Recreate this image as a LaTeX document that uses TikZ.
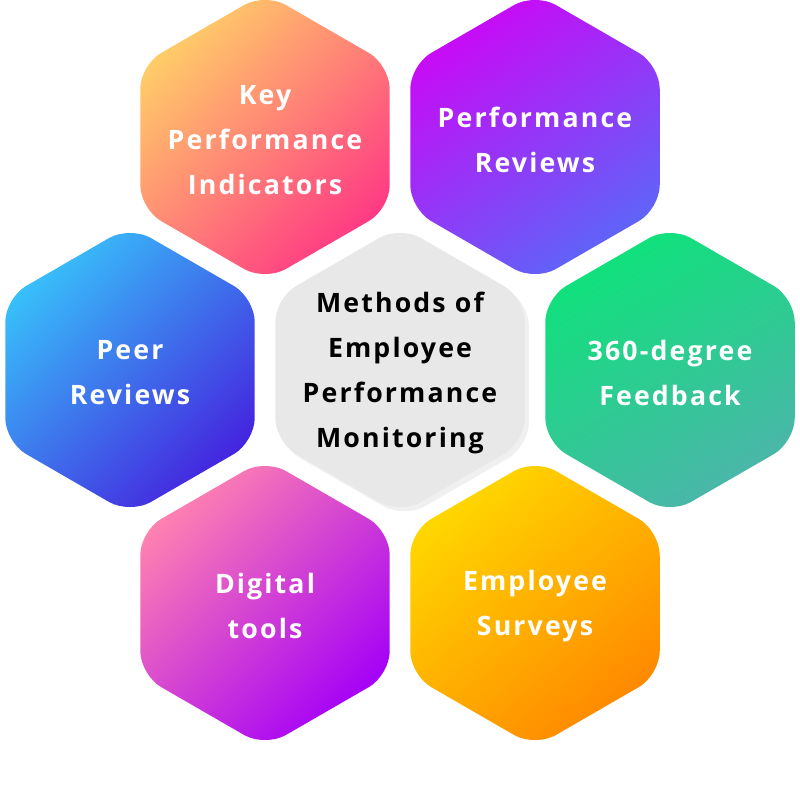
\documentclass[tikz,border=0pt]{standalone}
\usepackage{fontspec}
\setmainfont[LetterSpace=8]{Open Sans}
\usetikzlibrary{shapes.geometric,shadows}

\definecolor{kpiA}{HTML}{FFCD68}
\definecolor{kpiB}{HTML}{FF3984}
\definecolor{perfA}{HTML}{CB08F6}
\definecolor{perfB}{HTML}{5C66F8}
\definecolor{peerA}{HTML}{38C0FA}
\definecolor{peerB}{HTML}{4424DE}
\definecolor{fbA}{HTML}{0EE27A}
\definecolor{fbB}{HTML}{4CB5AA}
\definecolor{digA}{HTML}{FF82B0}
\definecolor{digB}{HTML}{A500F7}
\definecolor{survA}{HTML}{FFD800}
\definecolor{survB}{HTML}{FF8800}
\definecolor{hubgray}{HTML}{E8E8E8}

\tikzset{
  hexcell/.style={regular polygon, regular polygon sides=6, shape border rotate=30,
    minimum size=7.2cm, inner sep=0pt, outer sep=0pt, rounded corners=0.6cm},
  hexlabel/.style={align=center, font=\fontsize{19}{32}\selectfont\bfseries, text=white, yshift=-2pt},
}

\begin{document}
\begin{tikzpicture}[x=0.025cm,y=-0.025cm]
  \useasboundingbox (0,0) rectangle (800,796);
  % the six methods round the hub
  \node[hexcell,top color=kpiA,bottom color=kpiB,shading angle=45] (kpi) at (265,137) {};
  \node[hexcell,top color=perfA,bottom color=perfB,shading angle=35] (perf) at (535,137) {};
  \node[hexcell,top color=peerA,bottom color=peerB,shading angle=45] (peer) at (130,370) {};
  \node[hexcell,top color=fbA,bottom color=fbB,shading angle=30] (fb) at (670,370) {};
  \node[hexcell,top color=digA,bottom color=digB,shading angle=45] (dig) at (265,603) {};
  \node[hexcell,top color=survA,bottom color=survB,shading angle=40] (surv) at (535,603) {};
  \node[hexcell,fill=hubgray,drop shadow={opacity=0.12,shadow xshift=3pt,shadow yshift=-3pt}] (hub) at (400,370) {};

  \node[hexlabel] at (kpi) {Key\\Performance\\Indicators};
  \node[hexlabel] at (perf) {Performance\\Reviews};
  \node[hexlabel] at (peer) {Peer\\Reviews};
  \node[hexlabel] at (fb) {360-degree\\Feedback};
  \node[hexlabel] at (dig) {Digital\\tools};
  \node[hexlabel] at (surv) {Employee\\Surveys};
  \node[hexlabel,text=black] at (hub) {Methods of\\Employee\\Performance\\Monitoring};
\end{tikzpicture}
\end{document}
